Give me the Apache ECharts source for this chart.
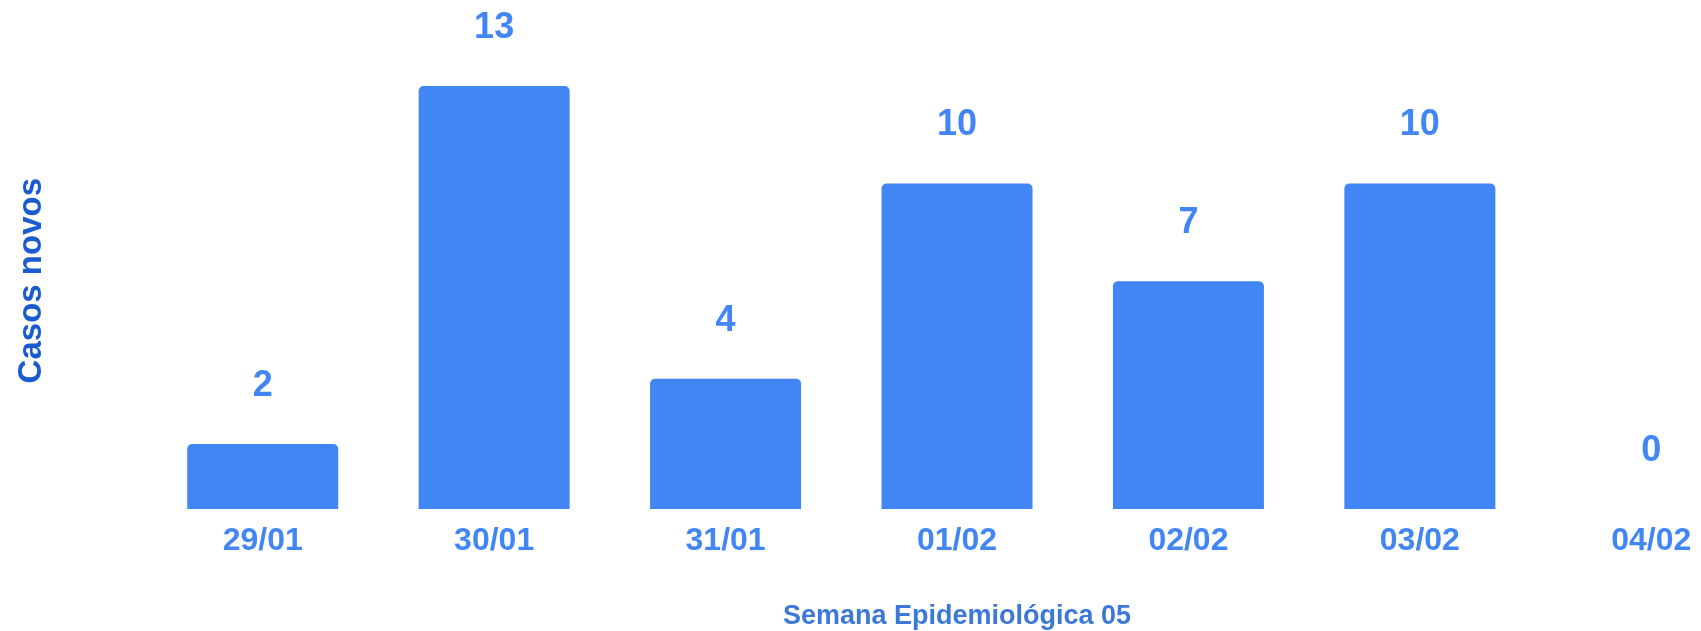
<!DOCTYPE html>
<html>
<head>
<meta charset="utf-8">
<script src="https://cdn.jsdelivr.net/npm/echarts@6/dist/echarts.min.js"></script>
<style>
html,body{margin:0;padding:0;background:#fff;}
#chart{width:1701px;height:631px;}
</style>
</head>
<body>
<div id="chart"></div>
<script>
const categories = ['29/01', '30/01', '31/01', '01/02', '02/02', '03/02', '04/02'];
const casosNovos = [2, 13, 4, 10, 7, 10, 0];
const xAxisTitle = 'Semana Epidemiológica 05';
const yAxisTitle = 'Casos novos';

const font = '"Liberation Sans", Arial, sans-serif';
const chart = echarts.init(document.getElementById('chart'), null, {renderer: 'canvas'});
chart.setOption({
  animation: false,
  backgroundColor: '#ffffff',
  grid: {left: 147, top: 66.4, width: 1620, height: 442.6, containLabel: false, outerBoundsMode: 'none'},
  xAxis: {
    type: 'category',
    data: categories,
    boundaryGap: true,
    axisLine: {show: false},
    axisTick: {show: false},
    splitLine: {show: false},
    axisLabel: {
      color: '#4285f4', fontSize: 32, fontWeight: 'bold', fontFamily: font, margin: 16
    },
    name: xAxisTitle,
    nameLocation: 'middle',
    nameGap: 94,
    nameTextStyle: {color: '#3c78d8', fontSize: 27, fontWeight: 'bold', fontFamily: font}
  },
  yAxis: {
    type: 'value',
    min: 0,
    max: 13.6,
    axisLine: {show: false},
    axisTick: {show: false},
    axisLabel: {show: false},
    splitLine: {show: false},
    name: yAxisTitle,
    nameLocation: 'middle',
    nameGap: 99,
    nameRotate: 90,
    nameTextStyle: {color: '#1a5ccf', fontSize: 33, fontWeight: 'bold', fontFamily: font, padding: [0, 0, 0, 14]}
  },
  series: [{
    type: 'bar',
    data: casosNovos,
    barWidth: 151,
    itemStyle: {color: '#4285f4', borderRadius: [5, 5, 0, 0]},
    label: {
      show: true,
      position: 'top',
      distance: 40,
      color: '#4285f4',
      fontSize: 36,
      fontWeight: 'bold',
      fontFamily: font
    }
  }]
});
</script>
</body>
</html>
